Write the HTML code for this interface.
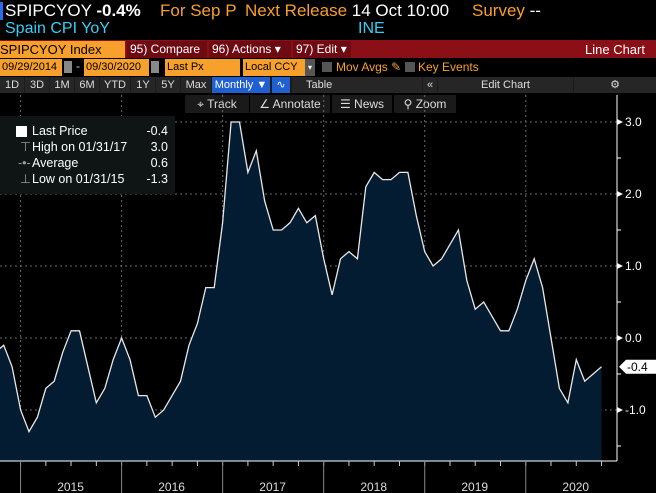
<!DOCTYPE html>
<html><head><meta charset="utf-8">
<style>
*{margin:0;padding:0;box-sizing:border-box}
body{width:656px;height:493px;background:#000;overflow:hidden;font-family:"Liberation Sans Narrow","Liberation Sans",sans-serif;color:#fff;position:relative}
.a{position:absolute;white-space:nowrap}
.o{color:#f7a02c}.c{color:#33d1f5}
.btn{position:absolute;background:#262626;color:#ddd;font-size:11px;height:16px;line-height:16px;text-align:center;white-space:nowrap;overflow:hidden}
.rb{position:absolute;top:41px;height:17px;line-height:17px;font-size:12px;color:#fff;background:#6e0a12;padding:0 3px;white-space:nowrap;overflow:hidden}
.of{position:absolute;top:59px;height:17px;line-height:17px;font-size:11px;color:#000;background:#f7a02c;padding-left:2px;white-space:nowrap;overflow:hidden}
</style></head><body>
<div class="a" style="left:0;top:2px;width:3px;height:18px;background:#2a6cf0"></div>
<div class="a" style="left:5px;top:1px;font-size:17px">SPIPCYOY <b>-0.4%</b></div>
<div class="a o" style="left:160px;top:1px;font-size:17px">For Sep P</div>
<div class="a" style="left:245px;top:1px;font-size:17px"><span class="o">Next Release</span> 14 Oct 10:00</div>
<div class="a" style="left:472px;top:1px;font-size:17px"><span class="o">Survey</span> --</div>
<div class="a c" style="left:5px;top:20px;font-size:16px">Spain CPI YoY</div>
<div class="a c" style="left:358px;top:20px;font-size:16px">INE</div>

<div class="a" style="left:0;top:40px;width:656px;height:18px;background:#8b0f17"></div>
<div class="a" style="left:0;top:41px;width:125px;height:17px;background:#f7a02c;color:#000;font-size:13px;line-height:17px">SPIPCYOY Index</div>
<div class="rb" style="left:127px;width:80px">95) Compare</div>
<div class="rb" style="left:209px;width:82px">96) Actions ▾</div>
<div class="rb" style="left:293px;width:58px">97) Edit ▾</div>
<div class="a" style="left:585px;top:41px;font-size:13px;line-height:17px">Line Chart</div>

<div class="of" style="left:0;width:62px">09/29/2014</div>
<div class="a" style="left:64px;top:61px;width:8px;height:12px;background:#888"></div>
<div class="a" style="left:76px;top:59px;font-size:12px;color:#ccc">-</div>
<div class="of" style="left:84px;width:65px">09/30/2020</div>
<div class="a" style="left:151px;top:61px;width:8px;height:12px;background:#888"></div>
<div class="of" style="left:165px;width:75px">Last Px</div>
<div class="of" style="left:243px;width:62px">Local CCY</div>
<div class="a" style="left:305px;top:59px;width:10px;height:17px;background:#555;font-size:8px;line-height:17px;text-align:center">▾</div>
<div class="a" style="left:322px;top:62px;width:10px;height:10px;background:#555"></div>
<div class="a o" style="left:336px;top:60px;font-size:12px">Mov Avgs ✎</div>
<div class="a" style="left:405px;top:62px;width:10px;height:10px;background:#555"></div>
<div class="a o" style="left:418px;top:60px;font-size:12px">Key Events</div>

<div class="a" style="left:0;top:77px;width:656px;height:16px;background:#1c1c1c"></div>
<div class="btn" style="left:0;top:77px;width:24px">1D</div>
<div class="btn" style="left:25px;top:77px;width:24px">3D</div>
<div class="btn" style="left:50px;top:77px;width:24px">1M</div>
<div class="btn" style="left:75px;top:77px;width:24px">6M</div>
<div class="btn" style="left:100px;top:77px;width:30px">YTD</div>
<div class="btn" style="left:131px;top:77px;width:24px">1Y</div>
<div class="btn" style="left:156px;top:77px;width:24px">5Y</div>
<div class="btn" style="left:181px;top:77px;width:30px">Max</div>
<div class="btn" style="left:212px;top:77px;width:58px;background:#1f5fcf;color:#fff">Monthly ▼</div>
<div class="btn" style="left:272px;top:77px;width:18px;background:#1f5fcf;color:#fff">∿</div>
<div class="btn" style="left:292px;top:77px;width:130px;text-align:left;padding-left:14px">Table</div>
<div class="btn" style="left:423px;top:77px;width:14px">«</div>
<div class="btn" style="left:438px;top:77px;width:135px">Edit Chart</div>
<div class="btn" style="left:574px;top:77px;width:82px">⚙</div>

<div class="btn" style="left:185px;top:95px;width:64px;height:18px;line-height:18px;font-size:12px;background:#1a1a1a">⌖ Track</div>
<div class="btn" style="left:250px;top:95px;width:80px;height:18px;line-height:18px;font-size:12px;background:#1a1a1a">∠ Annotate</div>
<div class="btn" style="left:332px;top:95px;width:60px;height:18px;line-height:18px;font-size:12px;background:#1a1a1a">☰ News</div>
<div class="btn" style="left:394px;top:95px;width:62px;height:18px;line-height:18px;font-size:12px;background:#1a1a1a">⚲ Zoom</div>

<svg id="chart" class="a" style="left:0;top:0" width="656" height="493"></svg>

<div class="a" style="left:0;top:116px;width:175px;height:78px;background:#0f1515;font-size:12.5px;line-height:16px;padding-top:7px">
 <div style="position:relative;height:16px"><span style="position:absolute;left:16px;top:3px;width:11px;height:11px;background:#fff"></span><span style="position:absolute;left:32px">Last Price</span><span style="position:absolute;right:7px">-0.4</span></div>
 <div style="position:relative;height:16px"><span style="position:absolute;left:20px;color:#999">⊤</span><span style="position:absolute;left:32px">High on 01/31/17</span><span style="position:absolute;right:7px">3.0</span></div>
 <div style="position:relative;height:16px"><span style="position:absolute;left:18px;color:#999">-•-</span><span style="position:absolute;left:32px">Average</span><span style="position:absolute;right:7px">0.6</span></div>
 <div style="position:relative;height:16px"><span style="position:absolute;left:20px;color:#999">⊥</span><span style="position:absolute;left:32px">Low on 01/31/15</span><span style="position:absolute;right:7px">-1.3</span></div>
</div>

<script>
const values=[-0.2,-0.1,-0.4,-1.0,
-1.3,-1.1,-0.7,-0.6,-0.2,0.1,0.1,-0.4,-0.9,-0.7,-0.3,0.0,
-0.3,-0.8,-0.8,-1.1,-1.0,-0.8,-0.6,-0.1,0.2,0.7,0.7,1.6,
3.0,3.0,2.3,2.6,1.9,1.5,1.5,1.6,1.8,1.6,1.7,1.1,
0.6,1.1,1.2,1.1,2.1,2.3,2.2,2.2,2.3,2.3,1.7,1.2,
1.0,1.1,1.3,1.5,0.8,0.4,0.5,0.3,0.1,0.1,0.4,0.8,
1.1,0.7,0.0,-0.7,-0.9,-0.3,-0.6,-0.5,-0.4];
const yTicks=[3.0,2.0,1.0,0.0,-1.0];
const yMinor=[2.5,1.5,0.5,-0.5,-1.5];
const years=["2015","2016","2017","2018","2019","2020"];
const lastLabel="-0.4";
const NS="http://www.w3.org/2000/svg";
const svg=document.getElementById('chart');
const X0=-4.7,DX=8.42,PB=461,AX=617;
const x=i=>X0+i*DX;
const y=v=>338-72*v;
const yearX=k=>x(3+12*k);
function mk(t,a,name){const e=document.createElementNS(NS,t);for(const k in a)e.setAttribute(k,a[k]);


svg.appendChild(e);return e;}
yTicks.forEach(v=>{mk('line',{x1:0,x2:AX,y1:y(v),y2:y(v),stroke:'#6a6a6a','stroke-dasharray':'2,3'},'h-grid');});
years.forEach((t,k)=>{const gx=yearX(k);mk('line',{x1:gx,x2:gx,y1:95,y2:PB,stroke:'#6a6a6a','stroke-dasharray':'2,3'},'v-grid');});
let d='M'+x(0)+','+PB;values.forEach((v,i)=>d+=' L'+x(i).toFixed(1)+','+y(v).toFixed(1));d+=' L'+x(values.length-1)+','+PB+'Z';
mk('path',{d:d,fill:'#041c31'},'area-fill');
let l='';values.forEach((v,i)=>l+=(i?' L':'M')+x(i).toFixed(1)+','+y(v).toFixed(1));
mk('path',{d:l,fill:'none',stroke:'#e8e8e8','stroke-width':1.3},'price-line');
mk('line',{x1:0,x2:AX,y1:PB,y2:PB,stroke:'#fff'},'x-axis');
mk('line',{x1:AX,x2:AX,y1:95,y2:PB,stroke:'#fff'},'y-axis');
for(let i=0;i<values.length;i+=3){mk('line',{x1:x(i),x2:x(i),y1:PB,y2:PB+5,stroke:'#ccc'},'x-tick');}
years.forEach((t,k)=>{const gx=yearX(k);mk('line',{x1:gx,x2:gx,y1:PB,y2:493,stroke:'#888'},'year-sep');
const tx=mk('text',{x:gx+50,y:491,fill:'#ddd','font-size':12,'text-anchor':'middle','font-family':'Liberation Sans'},'year-label');tx.textContent=t;});
yTicks.forEach(v=>{mk('path',{d:`M${AX},${y(v)-3} L${AX+6},${y(v)} L${AX},${y(v)+3}Z`,fill:'#fff'},'y-tick');
const tx=mk('text',{x:AX+8,y:y(v)+4,fill:'#fff','font-size':12,'font-family':'Liberation Sans'},'y-tick-label');tx.textContent=v.toFixed(1);});
yMinor.forEach(v=>{mk('line',{x1:AX,x2:AX+4,y1:y(v),y2:y(v),stroke:'#fff'},'y-minor-tick');});
const lv=values[values.length-1],ly=y(lv);
mk('path',{d:`M${AX+2},${ly} L${AX+9},${ly-7} L656,${ly-7} L656,${ly+7} L${AX+9},${ly+7}Z`,fill:'#fff'},'last-price-marker');
const lt=mk('text',{x:AX+10,y:ly+4,fill:'#000','font-size':12,'font-family':'Liberation Sans'},'last-price-label');lt.textContent=lastLabel;
</script>
</body></html>
